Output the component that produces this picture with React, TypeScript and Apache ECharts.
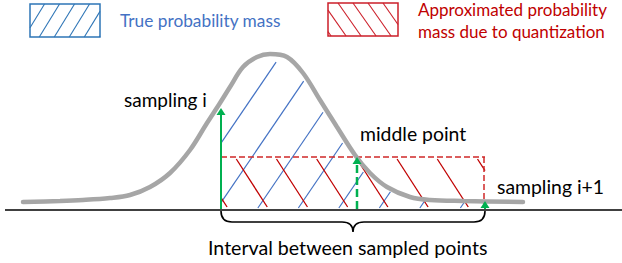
import React, { useEffect, useRef } from "react";
import * as echarts from "echarts";

// ---- Data (x in px units, height above baseline in px units) ----
const curveX = [23, 60, 83, 110, 130, 150, 170, 190, 207, 220, 230, 243, 257, 270, 287, 303, 320, 337, 355, 370, 387, 410, 430, 463, 523];
const curveH = [8, 9, 10, 12, 15, 23, 37, 60, 87, 107, 123, 143, 153, 156, 153, 137, 110, 83, 55, 37, 23, 13, 10, 9, 8];

const sampleX = [221, 485]; // sampling i, sampling i+1
const midX = 357; // middle point
const quantLevel = 53; // value of the curve at the middle point
const arrowX = [221, midX, 485];
const arrowTop = [102, 53, 9];
const arrowDashed = [false, true, false];

const labels = ["sampling i", "middle point", "sampling i+1", "Interval between sampled points"];
const legendTexts = ["True probability mass", "Approximated probability", "mass due to quantization"];

// ---- Styling constants ----
const BLUE = "#4472C4";
const RED = "#C00000";
const GREEN = "#00B050";
const GRAY = "#A6A6A6";
const FONT = "Lato";

const X_MIN = 5, X_MAX = 622, Y_MIN = -53, Y_MAX = 210;

function curveAt(x: number): number {
  if (x <= curveX[0]) return curveH[0];
  for (let i = 1; i < curveX.length; i++) {
    if (x <= curveX[i]) {
      const t = (x - curveX[i - 1]) / (curveX[i] - curveX[i - 1]);
      return curveH[i - 1] + t * (curveH[i] - curveH[i - 1]);
    }
  }
  return curveH[curveH.length - 1];
}

const BLUE_SLOPE = 1.47, BLUE_STEP = 40.5, BLUE_START = 216;
const RED_SLOPE = 1.55, RED_STEP = 40.2, RED_START = 229;

function blueSegments(): number[][][] {
  const segs: number[][][] = [];
  const [x0, x1] = sampleX;
  const lim = (x: number) => {
    const c = curveAt(x);
    return c - Math.min(7, 0.15 * c);
  };
  for (let k = -8; k <= 10; k++) {
    const b = BLUE_START + k * BLUE_STEP;
    const h0 = Math.max(2, BLUE_SLOPE * (x0 - b));
    const xa = b + h0 / BLUE_SLOPE;
    if (xa > x1) continue;
    if (h0 > lim(xa)) continue;
    let h = h0;
    for (let it = 0; it < 2000; it++) {
      const hn = h + 0.25;
      const xn = b + hn / BLUE_SLOPE;
      if (xn > x1 || hn > lim(xn)) break;
      h = hn;
    }
    if (h - h0 < 0.5) continue;
    segs.push([[xa, h0], [b + h / BLUE_SLOPE, h]]);
  }
  return segs;
}

function redSegments(): number[][][] {
  const segs: number[][][] = [];
  const [x0, x1] = sampleX;
  for (let k = -3; k <= 10; k++) {
    const c = RED_START + k * RED_STEP;
    const hLow = Math.max(3, RED_SLOPE * (c - x1));
    const hHigh = Math.min(quantLevel - 2, RED_SLOPE * (c - x0));
    if (hHigh - hLow < 0.5) continue;
    segs.push([[c - hLow / RED_SLOPE, hLow], [c - hHigh / RED_SLOPE, hHigh]]);
  }
  return segs;
}

function rectHatch(rx: number, ry: number, rw: number, rh: number, dirX: number, dirY: number, px: number, py: number, step: number, color: string) {
  const out: any[] = [];
  for (let k = -10; k <= 10; k++) {
    const ox = px + k * step, oy = py;
    let t0 = -1e6, t1 = 1e6;
    const p = [-dirX, dirX, -dirY, dirY];
    const q = [ox - rx, rx + rw - ox, oy - ry, ry + rh - oy];
    let ok = true;
    for (let i = 0; i < 4; i++) {
      if (p[i] === 0) { if (q[i] < 0) ok = false; continue; }
      const r = q[i] / p[i];
      if (p[i] < 0) t0 = Math.max(t0, r); else t1 = Math.min(t1, r);
    }
    if (!ok || t1 - t0 < 0.05) continue;
    out.push({
      type: "line",
      shape: { x1: ox + t0 * dirX, y1: oy + t0 * dirY, x2: ox + t1 * dirX, y2: oy + t1 * dirY },
      style: { stroke: color, lineWidth: 1.1 },
      silent: true,
    });
  }
  return out;
}

function textEl(text: string, x: number, y: number, size: number, color: string) {
  return {
    type: "text",
    x,
    y,
    silent: true,
    style: {
      text,
      fill: color,
      fontSize: size,
      fontFamily: FONT,
      textAlign: "left",
      textVerticalAlign: "middle",
      align: "left",
      verticalAlign: "middle",
    },
  };
}

export default function App() {
  const ref = useRef<HTMLDivElement>(null);
  useEffect(() => {
    const chart = echarts.init(ref.current!, null, { renderer: "svg" });
    const blue = blueSegments();
    const red = redSegments();

    const option: any = {
      animation: false,
      backgroundColor: "#ffffff",
      grid: { left: X_MIN, right: 0, top: 0, bottom: 0 },
      xAxis: { type: "value", min: X_MIN, max: X_MAX, show: false },
      yAxis: { type: "value", min: Y_MIN, max: Y_MAX, show: false },
      series: [
        {
          type: "custom",
          coordinateSystem: "cartesian2d",
          data: [[X_MIN, 0]],
          z: 1,
          silent: true,
          renderItem: (_p: any, api: any) => {
            const a = api.coord([X_MIN, 0]);
            const b = api.coord([X_MAX, 0]);
            return {
              type: "line",
              shape: { x1: a[0], y1: a[1], x2: b[0], y2: b[1] },
              style: { stroke: "#404040", lineWidth: 2 },
            };
          },
        },
        {
          type: "custom",
          coordinateSystem: "cartesian2d",
          data: [[X_MIN, 0]],
          z: 2,
          silent: true,
          renderItem: (_p: any, api: any) => {
            const children: any[] = [];
            blue.forEach((s) => {
              const a = api.coord(s[0]);
              const b = api.coord(s[1]);
              children.push({ type: "line", shape: { x1: a[0], y1: a[1], x2: b[0], y2: b[1] }, style: { stroke: BLUE, lineWidth: 1.2 } });
            });
            red.forEach((s) => {
              const a = api.coord(s[0]);
              const b = api.coord(s[1]);
              children.push({ type: "line", shape: { x1: a[0], y1: a[1], x2: b[0], y2: b[1] }, style: { stroke: RED, lineWidth: 1.3 } });
            });
            const tl = api.coord([sampleX[0], quantLevel]);
            const tr = api.coord([sampleX[1], quantLevel]);
            const br = api.coord([sampleX[1], 0]);
            children.push({ type: "line", shape: { x1: tl[0], y1: tl[1], x2: tr[0], y2: tr[1] }, style: { stroke: "#D02828", lineWidth: 1.5, lineDash: [6, 3] } });
            children.push({ type: "line", shape: { x1: tr[0] - 1, y1: tr[1], x2: br[0] - 1, y2: br[1] }, style: { stroke: "#D02828", lineWidth: 1.5, lineDash: [6, 3] } });
            return { type: "group", children };
          },
        },
        {
          type: "line",
          data: curveX.map((x, i) => [x, curveH[i]]),
          smooth: 0.35,
          symbol: "none",
          z: 3,
          silent: true,
          lineStyle: { color: GRAY, width: 4.5, cap: "round" },
        },
        {
          type: "custom",
          coordinateSystem: "cartesian2d",
          data: [[X_MIN, 0]],
          z: 4,
          silent: true,
          renderItem: (_p: any, api: any) => {
            const children: any[] = [];
            arrowX.forEach((x, i) => {
              const base = api.coord([x, 0]);
              const tip = api.coord([x, arrowTop[i]]);
              const headH = 7, headW = 4.5;
              if (base[1] - tip[1] > headH + 1) {
                children.push({
                  type: "line",
                  shape: { x1: base[0], y1: base[1] - 1, x2: tip[0], y2: tip[1] + headH - 1 },
                  style: { stroke: GREEN, lineWidth: arrowDashed[i] ? 2.5 : 2, lineDash: arrowDashed[i] ? [8, 4] : null },
                });
              }
              children.push({
                type: "polygon",
                shape: { points: [[tip[0], tip[1]], [tip[0] - headW, tip[1] + headH], [tip[0] + headW, tip[1] + headH]] },
                style: { fill: GREEN },
              });
            });
            const l = api.coord([sampleX[0], -1]);
            const r = api.coord([sampleX[1], -1]);
            const m = api.coord([(sampleX[0] + sampleX[1]) / 2, -1]);
            const y0 = l[1], y1 = l[1] + 11, y2 = l[1] + 21;
            const c = 11;
            const d = [
              `M ${l[0]} ${y0}`,
              `Q ${l[0]} ${y1} ${l[0] + c} ${y1}`,
              `L ${m[0] - c} ${y1}`,
              `Q ${m[0]} ${y1} ${m[0]} ${y2}`,
              `Q ${m[0]} ${y1} ${m[0] + c} ${y1}`,
              `L ${r[0] - c} ${y1}`,
              `Q ${r[0]} ${y1} ${r[0]} ${y0}`,
            ].join(" ");
            children.push({ type: "path", shape: { pathData: d }, style: { stroke: "#000000", fill: "none", lineWidth: 1.6 } });
            return { type: "group", children };
          },
        },
      ],
      graphic: [
        { type: "rect", shape: { x: 30, y: 4, width: 70, height: 33 }, style: { fill: "none", stroke: "#2E75B6", lineWidth: 1.5 }, silent: true },
        ...rectHatch(30, 4, 70, 33, 1, -1.63, 39.3, 37, 15, "#2E75B6"),
        { type: "rect", shape: { x: 328, y: 3, width: 70, height: 33 }, style: { fill: "none", stroke: "#CC1F2A", lineWidth: 1.5 }, silent: true },
        ...rectHatch(328, 3, 70, 33, 1, 1.43, 338, 3, 15, "#CC1F2A"),
        textEl(legendTexts[0], 120, 20, 17.3, BLUE),
        textEl(legendTexts[1], 418, 9, 17, RED),
        textEl(legendTexts[2], 418, 31, 17, RED),
        textEl(labels[0], 124, 99, 19, "#000000"),
        textEl(labels[1], 360, 133, 19.4, "#000000"),
        textEl(labels[2], 497, 186, 19.4, "#000000"),
        textEl(labels[3], 208, 247, 19.6, "#000000"),
      ],
    };
    chart.setOption(option);
    return () => chart.dispose();
  }, []);
  return <div ref={ref} style={{ position: "absolute", left: 0, top: 0, width: 622, height: 263, background: "#fff" }} />;
}
